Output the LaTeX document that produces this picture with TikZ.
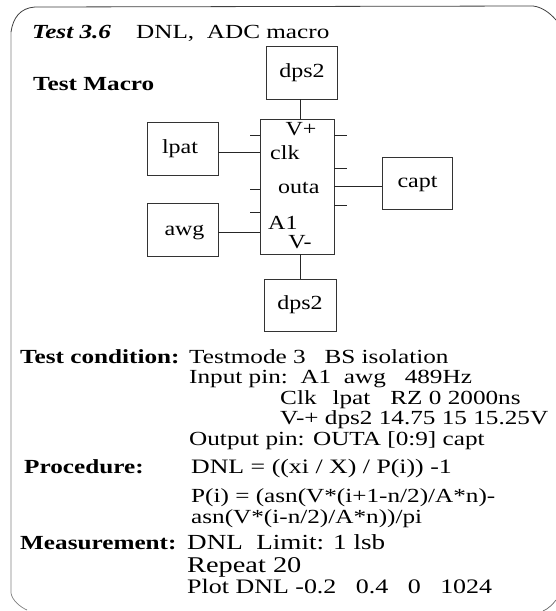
\documentclass[tikz,border=0pt]{standalone}
\usepackage{fontspec}
\setmainfont[FakeStretch=1.26]{Liberation Serif}
\newfontfamily\diagfont[FakeStretch=1.2]{Liberation Serif}
\newcommand{\fsz}[1]{\fontsize{#1}{#1}\selectfont}
\begin{document}
\begin{tikzpicture}[x=1pt,y=-1pt,
  blk/.style={draw=black!80,line width=0.9pt,inner sep=0pt,rectangle},
  wire/.style={draw=black!85,line width=0.8pt},
  lab/.style={inner sep=0pt,anchor=base west,font=\fsz{20}},
  hd/.style={inner sep=0pt,anchor=base west,font=\fsz{20}\bfseries},
  dlab/.style={inner sep=0pt,anchor=base west,font=\diagfont\fsz{20}},
  blab/.style={inner sep=0pt,anchor=base,font=\diagfont\fsz{20}}]
\useasboundingbox (0,0) rectangle (556,611);
\fill[white] (0,0) rectangle (556,611);
\draw[black!75,line width=0.8pt] (11,32) .. controls (13,18) and (20,8) .. (35,7) -- (533,6) .. controls (542,7) and (550,13) .. (556,20);
\draw[black!50,line width=0.7pt] (11,32) -- (11,593) .. controls (12,600) and (20,607) .. (27,610);
\draw[black!60,line width=0.7pt] (543,611) .. controls (548,609) and (553,604) .. (556,600);
% boxes
\node[blk,minimum width=71pt,minimum height=53pt] (dpsT) at (301.5,72.5) {};
\node[blk,minimum width=74pt,minimum height=135pt] (mac) at (297,186.5) {};
\node[blk,minimum width=71pt,minimum height=53pt] (lpat) at (182.5,148.5) {};
\node[blk,minimum width=71pt,minimum height=53pt] (awg) at (182.5,229.5) {};
\node[blk,minimum width=70pt,minimum height=52pt] (capt) at (417,183) {};
\node[blk,minimum width=72pt,minimum height=52pt] (dpsB) at (300,305) {};
% connectors
\coordinate (mt) at (300,119);\coordinate (mb) at (300,254);
\coordinate (mc) at (260,152);\coordinate (ma) at (260,232);\coordinate (mo) at (334,186);
\draw[wire] (dpsT.south -| mt) -- (mt);
\draw[wire] (mb) -- (dpsB.north -| mb);
\draw[wire] (lpat.east |- mc) -- (mc);
\draw[wire] (awg.east |- ma) -- (ma);
\draw[wire] (mo) -- (capt.west |- mo);
% stubs
\foreach \i/\y in {1/135,2/189,3/212}{\coordinate (sl\i) at (250,\y);\draw[wire] (sl\i) -- (mac.west |- sl\i);}
\foreach \i/\y in {1/135,2/168,3/205}{\coordinate (sr\i) at (347,\y);\draw[wire] (mac.east |- sr\i) -- (sr\i);}
% box labels
\node[blab] (t1) at (302,77) {dps2};
\node[blab] (t2) at (180,153) {lpat};
\node[blab] (t3) at (184.5,235) {awg};
\node[blab] (t4) at (417.5,187) {capt};
\node[blab] (t5) at (300,309) {dps2};
\node[blab] (t6) at (301,135) {V+};
\node[dlab] (t7) at (270,159) {clk};
\node[dlab] (t8) at (278,193) {outa};
\node[dlab] (t9) at (268,229) {A1};
\node[blab] (t10) at (300,248) {V-};
% heading
\node[lab,font=\fsz{20}\bfseries\itshape] (t11) at (32,38) {Test 3.6};
\node[lab] (t12) at (136,38) {DNL,\ \ ADC macro};
\node[hd] (t13) at (33,90) {Test Macro};
% text
\node[hd] (a1) at (20,363) {Test condition:};
\node[lab] (a2) at (189,363) {Testmode 3\ \ \ BS isolation};
\node[lab] (a3) at (189,383) {Input pin:\ \ A1\ \ awg\ \ \ 489Hz};
\node[lab] (a4) at (280,404) {Clk\hspace{16pt}lpat\hspace{20pt}RZ 0 2000ns};
\node[lab] (a5) at (280,424) {V-+ dps2 14.75 15 15.25V};
\node[lab] (a6) at (189,445) {Output pin: OUTA [0:9] capt};
\node[hd] (b1) at (24,473) {Procedure:};
\node[lab,font=\fsz{20.5}] (b2) at (191,473) {DNL = ((xi / X) / P(i)) -1};
\node[lab] (b3) at (191,502) {P(i) = (asn(V*(i+1-n/2)/A*n)-};
\node[lab] (b4) at (191,523) {asn(V*(i-n/2)/A*n))/pi};
\node[hd] (c1) at (20,549) {Measurement:};
\node[lab,font=\fsz{21.5}] (c2) at (187,549) {DNL\ \ Limit: 1 lsb};
\node[lab,font=\fsz{22.5}] (c3) at (187,572) {Repeat 20};
\node[lab,font=\fsz{20.6}] (c4) at (187,593) {Plot DNL -0.2\ \ \ 0.4\ \ \ 0\ \ \ 1024};
\end{tikzpicture}
\end{document}
